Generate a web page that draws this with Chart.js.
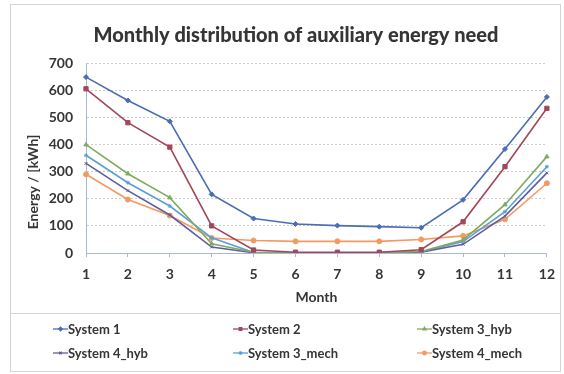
<!DOCTYPE html>
<html>
<head>
<meta charset="utf-8">
<script src="https://cdn.jsdelivr.net/npm/chart.js@4.4.1/dist/chart.umd.min.js"></script>
<style>
  html, body { margin: 0; padding: 0; background: #fff; }
  #wrap { width: 564px; height: 374px; position: relative; }
</style>
</head>
<body>
<div id="wrap"><canvas id="chart" width="564" height="374"></canvas></div>
<script>
// Monthly auxiliary energy need per system, kWh
const months = ["1", "2", "3", "4", "5", "6", "7", "8", "9", "10", "11", "12"];

const system1     = [648, 562, 485, 216, 127, 107, 101,  97,  93, 196, 383, 575];
const system2     = [605, 480, 390, 100,  11,   3,   3,   3,  12, 115, 318, 533];
const system3Hyb  = [399, 292, 204,  34,   3,   1,   1,   1,   5,  48, 178, 355];
const system4Hyb  = [330, 230, 140,  22,   1,   0,   0,   0,   3,  32, 136, 295];
const system3Mech = [360, 259, 173,  56,   2,   1,   1,   1,   4,  42, 152, 318];
const system4Mech = [290, 197, 138,  55,  46,  43,  43,  43,  50,  63, 124, 257];

const yTicks = [0, 100, 200, 300, 400, 500, 600, 700];

const FONT = "Lato, 'Open Sans', sans-serif";
const TEXT = "#353535";
const AXIS = "#a9b8d6";

function series(label, data, color, style, radius) {
  return {
    label, data,
    borderColor: color,
    backgroundColor: color,
    borderWidth: 1.6,
    pointStyle: style,
    pointRadius: radius,
    pointBorderWidth: 1,
    pointHoverRadius: radius,
    tension: 0,
  };
}

const datasets = [
  series("System 1",      system1,     "#4a6db3", "rectRot",  2.5),
  series("System 2",      system2,     "#a2465a", "rect",     3),
  series("System 3_hyb",  system3Hyb,  "#80aa62", "triangle", 2.5),
  series("System 4_hyb",  system4Hyb,  "#5f5d9e", "crossRot", 2),
  series("System 3_mech", system3Mech, "#5a9fd6", "star",     2),
  series("System 4_mech", system4Mech, "#f29a62", "circle",   2.5),
];

// frame, title, y-axis title and the boxed 3-column legend
const decorations = {
  id: "decorations",
  beforeDraw(chart) {
    const ctx = chart.ctx;
    ctx.save();
    ctx.fillStyle = "#fff";
    ctx.fillRect(0, 0, chart.width, chart.height);
    ctx.restore();
  },
  afterDraw(chart) {
    const ctx = chart.ctx;
    ctx.save();

    // outer frame and legend box
    ctx.strokeStyle = "#d4d4d4";
    ctx.lineWidth = 1;
    ctx.strokeRect(10.5, 4.5, 550, 367);
    ctx.beginPath();
    ctx.moveTo(10.5, 313.5);
    ctx.lineTo(560.5, 313.5);
    ctx.stroke();

    // title
    ctx.fillStyle = TEXT;
    ctx.font = "900 21px " + FONT;
    ctx.textAlign = "center";
    ctx.textBaseline = "alphabetic";
    const title = "Monthly distribution of auxiliary energy need";
    const w = ctx.measureText(title).width;
    const sx = Math.min(1, 405 / w);
    ctx.save();
    ctx.translate(296, 42);
    ctx.scale(sx, 1);
    ctx.fillText(title, 0, 0);
    ctx.restore();

    // y-axis title
    ctx.save();
    ctx.translate(33, 182);
    ctx.rotate(-Math.PI / 2);
    ctx.font = "bold 14px " + FONT;
    ctx.textBaseline = "middle";
    ctx.fillText("Energy / [kWh]", 0, 0);
    ctx.restore();

    // legend
    const cols = [53, 233, 417];
    const rows = [329, 353];
    ctx.font = "bold 13px " + FONT;
    ctx.textAlign = "left";
    ctx.textBaseline = "middle";
    chart.data.datasets.forEach((ds, i) => {
      const x = cols[i % 3];
      const y = rows[Math.floor(i / 3)];
      ctx.strokeStyle = ds.borderColor;
      ctx.lineWidth = 1.3;
      ctx.beginPath();
      ctx.moveTo(x, y);
      ctx.lineTo(x + 15, y);
      ctx.stroke();
      ctx.fillStyle = ds.backgroundColor;
      Chart.helpers.drawPoint(ctx, {
        pointStyle: ds.pointStyle,
        rotation: 0,
        radius: 1.8,
        borderWidth: 1,
      }, x + 7.5, y);
      ctx.fillStyle = TEXT;
      ctx.fillText(ds.label, x + 15, y + 1);
    });

    ctx.restore();
  },
};

new Chart(document.getElementById("chart"), {
  type: "line",
  data: { labels: months, datasets },
  plugins: [decorations],
  options: {
    responsive: false,
    animation: false,
    layout: { padding: { left: 10, right: 6, top: 63, bottom: 62 } },
    plugins: {
      legend: { display: false },
      title: { display: false },
      tooltip: { enabled: false },
    },
    scales: {
      x: {
        offset: false,
        grid: {
          drawOnChartArea: false,
          drawTicks: true,
          tickLength: 4,
          color: AXIS,
        },
        border: { color: AXIS, width: 1 },
        ticks: {
          color: TEXT,
          font: { family: FONT, size: 14, weight: "bold" },
          padding: 9,
          maxRotation: 0,
        },
        title: {
          display: true,
          text: "Month",
          color: TEXT,
          font: { family: FONT, size: 14, weight: "bold" },
          padding: { top: 0, bottom: 6 },
        },
        afterFit(scale) { scale.height = 59; },
      },
      y: {
        min: 0,
        max: 700,
        afterBuildTicks(scale) { scale.ticks = yTicks.map(v => ({ value: v })); },
        grid: {
          drawTicks: false,
          color: (c) => c.tick && c.tick.value === 0 ? "rgba(0,0,0,0)" : "#cdcdcd",
          lineWidth: 1,
        },
        border: { color: AXIS, width: 1, dash: [2, 2] },
        ticks: {
          color: TEXT,
          font: { family: FONT, size: 14, weight: "bold" },
          padding: 13,
        },
        afterFit(scale) { scale.width = 76; },
      },
    },
  },
});
</script>
</body>
</html>
